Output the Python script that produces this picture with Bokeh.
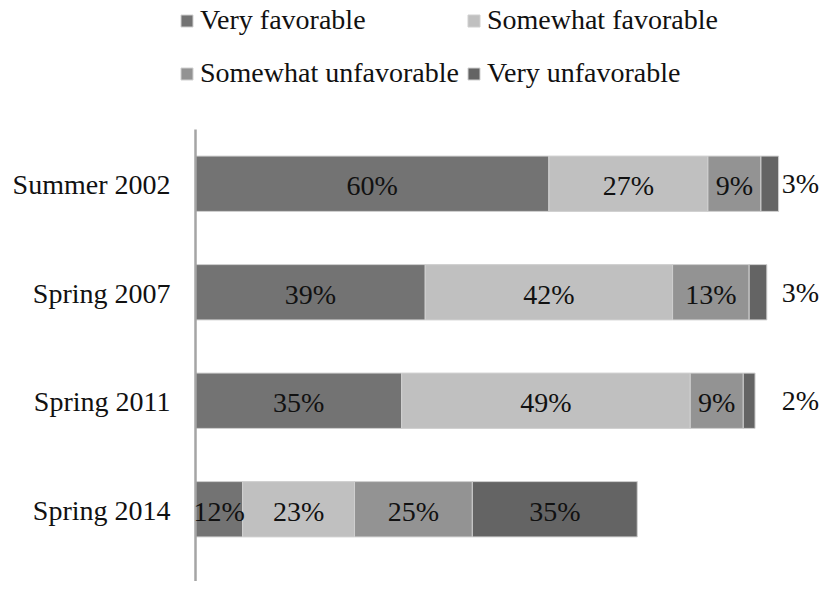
from bokeh.plotting import figure
from bokeh.models import ColumnDataSource, Range1d, Legend, LegendItem
from bokeh.core.properties import value
from bokeh.embed import file_html
from bokeh.resources import INLINE

# ---- data ----
categories = ["Summer 2002", "Spring 2007", "Spring 2011", "Spring 2014"]
series_names = ["Very favorable", "Somewhat favorable", "Somewhat unfavorable", "Very unfavorable"]
very_fav = [60, 39, 35, 8]
some_fav = [27, 42, 49, 19]
some_unfav = [9, 13, 9, 20]
very_unfav = [3, 3, 2, 28]
very_fav_labels = ["60%", "39%", "35%", "12%"]
some_fav_labels = ["27%", "42%", "49%", "23%"]
some_unfav_labels = ["9%", "13%", "9%", "25%"]
very_unfav_labels = ["3%", "3%", "2%", "35%"]

colors = ["#737373", "#c0c0c0", "#939393", "#646464"]
FONT = "Liberation Serif"
FS = "28px"
TXT = "#111111"

n = len(categories)
ypos = [n - i - 0.5 for i in range(n)]
keys = ["vf", "sf", "su", "vu"]
series = [very_fav, some_fav, some_unfav, very_unfav]
labels = [very_fav_labels, some_fav_labels, some_unfav_labels, very_unfav_labels]

src = ColumnDataSource(dict(y=ypos, vf=very_fav, sf=some_fav, su=some_unfav, vu=very_unfav))

W, H = 820, 581
px_x = 5.89      # pixels per percentage point
px_y = 108.5     # pixels per category band
x0_px, top_px = 195, 129
xr = Range1d(-x0_px / px_x, (W - x0_px) / px_x)
yr = Range1d(n - (H - top_px) / px_y, n + top_px / px_y)

p = figure(width=W, height=H, output_backend="svg", toolbar_location=None,
           x_range=xr, y_range=yr,
           min_border_left=0, min_border_right=0, min_border_top=0, min_border_bottom=0,
           outline_line_color=None, background_fill_color="white", border_fill_color="white")
p.xaxis.visible = False
p.yaxis.visible = False
p.xgrid.visible = False
p.ygrid.visible = False

renderers = p.hbar_stack(keys, y="y", height=0.51, color=colors, source=src,
                         line_color="#d0d0d0", line_width=1)

# category axis: line + labels
p.segment(x0=[0], y0=[yr.start], x1=[0], y1=[n], line_color="#a5a5a5", line_width=2.5)
p.text(x=[0] * n, y=ypos, text=categories, x_offset=-25, y_offset=1,
       text_align="right", text_baseline="middle",
       text_font=value(FONT), text_font_size=FS, text_color=TXT)

# inside / outside labels
in_x, in_y, in_t = [], [], []
out_x, out_y, out_t = [], [], []
totals = [sum(s[i] for s in series) for i in range(n)]
outside_x = max(totals) + 3.7
for i in range(n):
    start = 0
    for s, lab in zip(series, labels):
        v = s[i]
        if v < 5:
            out_x.append(outside_x); out_y.append(ypos[i]); out_t.append(lab[i])
        else:
            in_x.append(start + v / 2); in_y.append(ypos[i]); in_t.append(lab[i])
        start += v

p.text(x=in_x, y=in_y, text=in_t, text_align="center", text_baseline="middle", y_offset=2,
       text_font=value(FONT), text_font_size=FS, text_color=TXT)
p.text(x=out_x, y=out_y, text=out_t, text_align="center", text_baseline="middle", y_offset=0,
       text_font=value(FONT), text_font_size=FS, text_color=TXT)

legend = Legend(items=[LegendItem(label=nm, renderers=[r]) for nm, r in zip(series_names, renderers)],
                orientation="horizontal", ncols=2,
                location=(179, 485), padding=0, margin=0, spacing=7,
                label_height=46,
                border_line_color=None, background_fill_alpha=0,
                glyph_width=15, glyph_height=15, label_standoff=6,
                label_text_font=FONT, label_text_font_size=FS, label_text_color=TXT)
p.add_layout(legend, "center")

open("out.html", "w").write(file_html(p, INLINE))
